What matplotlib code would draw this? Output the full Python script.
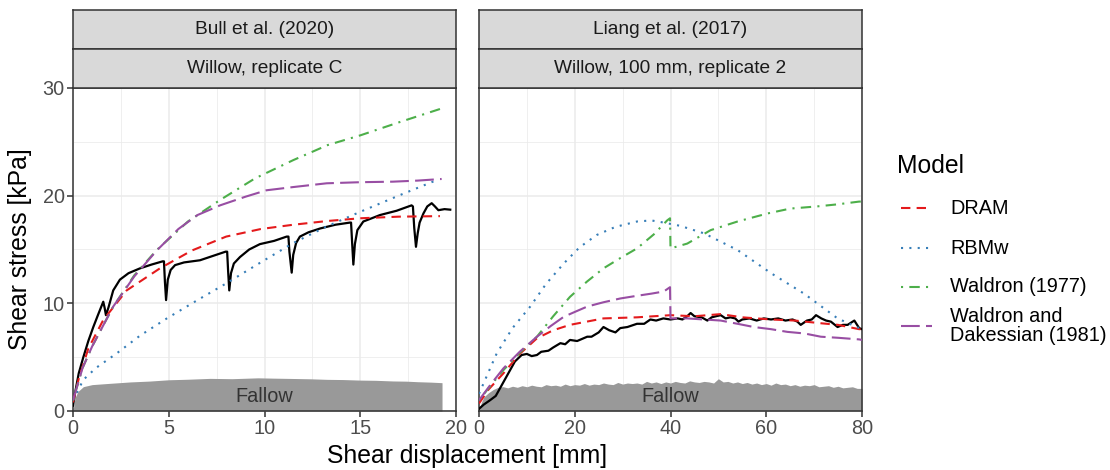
import numpy as np
import matplotlib.pyplot as plt
from matplotlib.lines import Line2D

plt.rcParams['font.family'] = ['Liberation Sans', 'DejaVu Sans']

# Bull et al. (2020), willow replicate C
bull_meas_x = [0, 0.1, 0.3, 0.54, 0.8, 1.06, 1.3, 1.58, 1.65, 1.72, 1.85, 2.1, 2.45, 2.9, 3.5, 4.1,
               4.68, 4.75, 4.8, 4.86, 4.95, 5.1, 5.33, 5.8, 6.63, 7.3, 7.97, 8.05, 8.1, 8.16, 8.25,
               8.4, 8.72, 9.2, 9.76, 10.5, 11.16, 11.25, 11.3, 11.42, 11.5, 11.65, 11.85, 12.3, 12.9,
               13.7, 14.46, 14.52, 14.58, 14.64, 14.72, 14.85, 15.16, 15.6, 16.03, 16.9, 17.68, 17.75,
               17.82, 17.91, 18.0, 18.1, 18.3, 18.5, 18.73, 18.9, 19.08, 19.4, 19.7]
bull_meas_y = [0.5, 1.6, 3.5, 5.0, 6.5, 7.8, 8.9, 10.15, 9.6, 8.9, 9.6, 11.2, 12.2, 12.8, 13.25, 13.6,
               13.9, 13.9, 12.0, 10.3, 12.2, 13.1, 13.55, 13.8, 14.0, 14.4, 14.8, 14.8, 13.0, 11.2, 12.8,
               13.7, 14.3, 15.0, 15.5, 15.8, 16.2, 16.2, 14.8, 12.85, 14.5, 15.6, 16.2, 16.6, 16.95,
               17.3, 17.5, 17.5, 15.5, 13.6, 15.5, 16.8, 17.6, 17.9, 18.2, 18.6, 19.1, 19.0,
               17.0, 15.25, 16.5, 17.5, 18.35, 19.0, 19.3, 19.0, 18.65, 18.75, 18.7]

bull_dram_x = [0, 0.3, 0.8, 1.58, 2.8, 4.54, 6.2, 8.0, 9.8, 11.5, 13.3, 15.0, 17.0, 19.16]
bull_dram_y = [0.8, 3.0, 5.8, 8.45, 11.2, 13.25, 14.9, 16.2, 16.9, 17.3, 17.65, 17.9, 18.05, 18.1]

bull_rbmw_x = [0, 0.54, 1.2, 2.28, 3.5, 4.9, 6.5, 8.0, 9.8, 11.5, 13.2, 15.0, 17.0, 19.0]
bull_rbmw_y = [1.0, 2.9, 4.0, 5.35, 7.0, 8.6, 10.3, 11.85, 13.8, 15.6, 17.1, 18.5, 20.0, 21.45]

bull_w77_x = [0, 0.5, 1.0, 2.1, 3.2, 4.37, 6.0, 7.68, 9.5, 11.5, 13.3, 15.0, 17.0, 19.25]
bull_w77_y = [1.0, 4.0, 6.0, 9.7, 12.6, 14.95, 17.6, 19.6, 21.6, 23.3, 24.7, 25.6, 26.8, 28.1]

bull_wd81_x = [0, 0.5, 1.0, 2.1, 3.2, 4.37, 5.5, 6.5, 7.68, 9.0, 10.1, 11.5, 13.25, 15.0, 16.7, 18.0, 19.25]
bull_wd81_y = [1.0, 4.0, 6.0, 9.7, 12.5, 14.9, 16.9, 18.2, 19.1, 19.9, 20.5, 20.8, 21.15, 21.25, 21.3, 21.4, 21.55]

bull_fallow_x = [0, 0.1, 0.25, 0.54, 1, 1.93, 3, 4, 5, 6, 7.15, 8.3, 9.65, 10.5, 11.5, 12.4, 13.25, 14.1,
                 15, 15.8, 16.7, 17.4, 18, 18.7, 19.27]
bull_fallow_y = [0, 1.2, 1.8, 2.26, 2.45, 2.57, 2.7, 2.78, 2.9, 2.95, 3.03, 3.0, 3.08, 3.05, 3.02, 2.99,
                 2.94, 2.92, 2.87, 2.85, 2.79, 2.77, 2.72, 2.68, 2.63]

# Liang et al. (2017), willow 100 mm replicate 2
liang_meas_x = [0, 1, 2.3, 3.5, 4.5, 5.5, 6.5, 7.5, 8.9, 10, 11, 12.1, 13, 14.5, 15.5, 17, 18, 19, 20.5,
                22.6, 23.5, 25, 26, 27.2, 28.5, 29.5, 31, 33, 34.5, 35.8, 37, 38.5, 40, 41.5, 42.5, 43.5,
                44.2, 45, 46.5, 47.7, 48.6, 49.5, 50.5, 51.5, 52.5, 53.5, 54.2, 55, 56.5, 58, 59.5, 61,
                62.5, 64, 65.5, 66.5, 67.2, 68.5, 69.5, 70.4, 71.5, 72.5, 73.5, 74.9, 76, 77, 78.4, 79.4, 80]
liang_meas_y = [0.2, 0.6, 1.0, 1.4, 2.2, 3.0, 3.8, 4.6, 5.2, 5.3, 5.1, 5.2, 5.5, 5.6, 5.9, 6.3, 6.2, 6.6, 6.5,
                6.9, 6.9, 7.3, 7.8, 7.5, 7.3, 7.7, 7.8, 8.1, 8.1, 8.5, 8.4, 8.6, 8.5, 8.6, 8.5, 8.8,
                9.1, 8.8, 8.7, 8.4, 8.7, 8.8, 8.9, 8.6, 8.7, 8.6, 8.3, 8.5, 8.6, 8.4, 8.6, 8.5,
                8.6, 8.4, 8.5, 8.3, 8.0, 8.4, 8.5, 8.9, 8.6, 8.4, 8.3, 7.8, 8.0, 8.0, 8.4, 7.7, 7.6]

liang_dram_x = [0, 2, 5.1, 8.5, 12.1, 15.5, 19, 22.5, 26, 33, 40, 45, 50.5, 55, 61, 66, 71.4, 75, 79.4, 80]
liang_dram_y = [0.7, 2.0, 3.5, 5.3, 6.75, 7.5, 8.0, 8.3, 8.6, 8.7, 8.9, 8.8, 9.0, 8.7, 8.5, 8.4, 8.15, 8.0, 7.6, 7.6]

liang_rbmw_x = [0, 3.7, 7, 10.7, 14, 17.7, 21, 24.6, 28.5, 33, 36, 38.6, 42, 47, 54, 61, 67.9, 74.9, 79.4]
liang_rbmw_y = [1.6, 5.35, 7.7, 9.7, 11.8, 13.7, 15.2, 16.35, 17.1, 17.6, 17.7, 17.5, 17.2, 16.5, 14.95, 12.8, 10.9, 8.6, 7.7]

liang_w77_x = [0, 2.5, 5.1, 8.5, 12.1, 15.5, 19, 22.5, 26, 29.5, 33, 36.5, 39.3, 39.9, 40.0, 43.5, 48.4,
               54, 60.3, 65, 70.6, 75, 79.4, 80]
liang_w77_y = [1.0, 2.4, 3.8, 5.4, 6.9, 8.8, 10.6, 12.0, 13.25, 14.2, 15.1, 16.4, 17.7, 17.9, 15.1, 15.55, 16.8,
               17.6, 18.35, 18.8, 19.0, 19.2, 19.45, 19.45]

liang_wd81_x = [0, 2.5, 5.1, 8.5, 12.1, 15, 17.7, 20, 22.6, 26, 29.5, 33, 36, 38.6, 39.9, 40.0, 43.5, 47,
                50.5, 54, 57.4, 61, 64.4, 68, 71.4, 75, 79.4, 80]
liang_wd81_y = [1.0, 2.5, 3.96, 5.5, 6.9, 7.9, 8.75, 9.2, 9.7, 10.1, 10.45, 10.7, 10.9, 11.1, 11.5, 8.6, 8.6, 8.5,
                8.4, 8.1, 7.8, 7.6, 7.35, 7.2, 6.9, 6.8, 6.65, 6.6]

liang_fallow_x = [0, 0.5, 1, 2, 3, 4, 5, 6, 7, 8, 9, 10, 11, 12, 13, 14, 15, 16, 17, 18, 19, 20, 21, 22, 23,
                  24, 25, 26, 27, 28, 29, 30, 31, 32, 33, 34, 35, 36, 37, 38, 39, 40, 41, 42, 43, 44, 45,
                  46, 47, 48, 49, 50, 51, 52, 53, 54, 55, 56, 57, 58, 59, 60, 61, 62, 63, 64, 65, 66, 67,
                  68, 69, 70, 71, 72, 73, 74, 75, 76, 77, 78, 79, 80]
liang_fallow_y = [0, 0.8, 1.3, 1.7, 2.0, 2.2, 2.26, 2.15, 2.3, 2.2, 2.35, 2.25, 2.4, 2.3, 2.25, 2.45, 2.35, 2.4,
                  2.3, 2.5, 2.35, 2.45, 2.4, 2.55, 2.4, 2.5, 2.45, 2.6, 2.5, 2.45, 2.65, 2.5, 2.6, 2.55, 2.6,
                  2.5, 2.75, 2.6, 2.7, 2.55, 2.7, 2.6, 2.75, 2.65, 2.6, 2.8, 2.7, 2.65, 2.75, 2.7, 2.6, 3.0,
                  2.7, 2.75, 2.6, 2.7, 2.55, 2.65, 2.5, 2.6, 2.45, 2.55, 2.4, 2.6, 2.45, 2.5, 2.35, 2.45,
                  2.3, 2.4, 2.35, 2.45, 2.25, 2.3, 2.35, 2.2, 2.3, 2.15, 2.2, 2.25, 2.1, 2.1]

models = ['DRAM', 'RBMw', 'Waldron (1977)', 'Waldron and\nDakessian (1981)']
colours = ['#E41A1C', '#377EB8', '#4DAF4A', '#984EA3']
dashes = [(4.5, 3), (1, 3), (1, 3, 5, 3), (9, 3)]

panels = [
    dict(strip=['Bull et al. (2020)', 'Willow, replicate C'], xlim=20, xmajor=[0, 5, 10, 15, 20],
         xminor=[2.5, 7.5, 12.5, 17.5], meas=(bull_meas_x, bull_meas_y),
         fallow=(bull_fallow_x, bull_fallow_y),
         fits=[(bull_dram_x, bull_dram_y), (bull_rbmw_x, bull_rbmw_y),
               (bull_w77_x, bull_w77_y), (bull_wd81_x, bull_wd81_y)]),
    dict(strip=['Liang et al. (2017)', 'Willow, 100 mm, replicate 2'], xlim=80, xmajor=[0, 20, 40, 60, 80],
         xminor=[10, 30, 50, 70], meas=(liang_meas_x, liang_meas_y),
         fallow=(liang_fallow_x, liang_fallow_y),
         fits=[(liang_dram_x, liang_dram_y), (liang_rbmw_x, liang_rbmw_y),
               (liang_w77_x, liang_w77_y), (liang_wd81_x, liang_wd81_y)]),
]

W, H = 1110, 470
fig = plt.figure(figsize=(W / 100, H / 100), dpi=100)

lefts = [73, 479]
width = 383
top, bottom = 88, 411
edge = '#333333'

for i, p in enumerate(panels):
    ax = fig.add_axes([lefts[i] / W, (H - bottom) / H, width / W, (bottom - top) / H])
    ax.set_xlim(0, p['xlim'])
    ax.set_ylim(0, 30)
    ax.set_xticks(p['xmajor'])
    ax.set_xticks(p['xminor'], minor=True)
    ax.set_yticks([0, 10, 20, 30])
    ax.set_yticks([5, 15, 25], minor=True)
    ax.grid(which='major', color='#EBEBEB', lw=1.1)
    ax.grid(which='minor', color='#EBEBEB', lw=0.55)
    ax.set_axisbelow(True)
    for s in ax.spines.values():
        s.set_color(edge)
        s.set_linewidth(1.1)
    ax.tick_params(which='major', length=4, width=1.1, color=edge, labelsize=14.3, labelcolor='#4D4D4D', pad=2)
    ax.tick_params(which='minor', length=0)
    if i > 0:
        ax.tick_params(axis='y', which='both', left=False, labelleft=False)

    fx, fy = p['fallow']
    ax.fill_between(fx, 0, fy, color='#999999', lw=0, zorder=1)
    ax.text(p['xlim'] / 2, 1.35, 'Fallow', ha='center', va='center', fontsize=14.3, color='#333333', zorder=2)

    ax.plot(*p['meas'], color='black', lw=1.6, zorder=3)
    for (x, y), c, d in zip(p['fits'], colours, dashes):
        ax.plot(x, y, color=c, lw=1.5, dashes=d, dash_capstyle='butt', zorder=4)

    # strips
    for j, (y0, y1) in enumerate([(10, 48.5), (48.5, 88)]):
        sax = fig.add_axes([lefts[i] / W, (H - y1) / H, width / W, (y1 - y0) / H])
        sax.set_facecolor('#D9D9D9')
        sax.set_xticks([])
        sax.set_yticks([])
        for s in sax.spines.values():
            s.set_color(edge)
            s.set_linewidth(1.1)
        sax.text(0.5, 0.5, p['strip'][j], ha='center', va='center', fontsize=13.8, color='#1A1A1A',
                 transform=sax.transAxes)

fig.text(20 / W, 1 - 249 / H, 'Shear stress [kPa]', rotation=90, ha='center', va='center', fontsize=17.8)
fig.text(467 / W, 1 - 456 / H, 'Shear displacement [mm]', ha='center', va='center', fontsize=17.8)

# legend, drawn by hand so the two-line key sits like ggplot's
fig.text(897 / W, 1 - 166 / H, 'Model', ha='left', va='center', fontsize=17.8)
key_y = [208, 248, 287, 326]
for lab, c, d, ky in zip(models, colours, dashes, key_y):
    fig.add_artist(Line2D([901 / W, 932 / W], [1 - ky / H, 1 - ky / H], transform=fig.transFigure,
                          color=c, lw=1.5, dashes=d, dash_capstyle='butt'))
    fig.text(950 / W, 1 - ky / H, lab, ha='left', va='center', fontsize=14.3, linespacing=1.05)

fig.savefig('out.png', dpi=100)
